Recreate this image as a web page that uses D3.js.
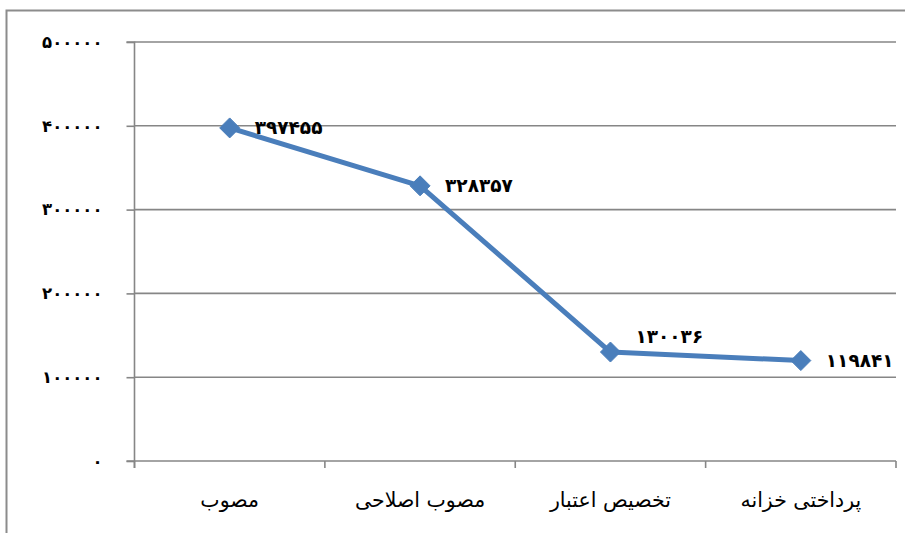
<!DOCTYPE html>
<html>
<head>
<meta charset="utf-8">
<script src="https://cdn.jsdelivr.net/npm/d3@7"></script>
<style>
  html, body { margin: 0; padding: 0; background: #fff; }
  svg { display: block; }
</style>
</head>
<body>
<svg id="chart" width="905" height="533"></svg>
<script>
const categories = ["مصوب", "مصوب اصلاحی", "تخصیص اعتبار", "پرداختی خزانه"];
const values = [397455, 328357, 130036, 119841];
const yTicks = [0, 100000, 200000, 300000, 400000, 500000];
const labelLift = [0, 0, 16, 0];

const toFa = n => String(n).replace(/\d/g, d => "۰۱۲۳۴۵۶۷۸۹"[d]);

const svg = d3.select("#chart");
const m = { left: 134.5, right: 896, top: 42, bottom: 461 };

// outer border
svg.append("rect")
  .attr("x", 6.5).attr("y", 10.5)
  .attr("width", 920).attr("height", 540)
  .attr("fill", "none").attr("stroke", "#8c8c8c").attr("stroke-width", 2);

const x = d3.scaleBand().domain(categories).range([m.left, m.right]).padding(0);
const y = d3.scaleLinear().domain([0, 500000]).range([m.bottom, m.top]);

// gridlines
svg.append("g").selectAll("line").data(yTicks.filter(t => t > 0)).join("line")
  .attr("x1", m.left).attr("x2", m.right)
  .attr("y1", d => y(d)).attr("y2", d => y(d))
  .attr("stroke", "#868686").attr("stroke-width", 1.6);

// y axis
const yAxis = d3.axisLeft(y).tickValues(yTicks).tickSize(8).tickPadding(24)
  .tickFormat(d => toFa(d));
const gy = svg.append("g").attr("transform", `translate(${m.left},0)`).call(yAxis);
gy.select(".domain").attr("stroke", "#868686").attr("stroke-width", 1.6)
  .attr("d", `M-8,${m.top}H0V${m.bottom + 7}`);
gy.selectAll(".tick line").attr("stroke", "#868686").attr("stroke-width", 1.6);
gy.selectAll(".tick text")
  .attr("font-family", "DejaVu Sans, sans-serif")
  .attr("font-size", 16.5).attr("font-weight", "bold").attr("fill", "#000");

// x axis
const xAxis = d3.axisBottom(x).tickSize(0).tickPadding(31);
const gx = svg.append("g").attr("transform", `translate(0,${m.bottom})`).call(xAxis);
gx.select(".domain").attr("stroke", "#868686").attr("stroke-width", 1.6)
  .attr("d", `M${m.left - 8},0H${m.right}`);
gx.selectAll(".tick text")
  .attr("font-family", "DejaVu Sans, sans-serif")
  .attr("font-size", 20.5).attr("fill", "#000").attr("direction", "rtl");
// category boundary ticks
const bounds = categories.map(c => x(c)).concat([x(categories[categories.length - 1]) + x.bandwidth()]);
gx.append("g").selectAll("line").data(bounds).join("line")
  .attr("x1", d => d).attr("x2", d => d).attr("y1", 0).attr("y2", 7)
  .attr("stroke", "#868686").attr("stroke-width", 1.6);

const cx = c => x(c) + x.bandwidth() / 2;
const pts = categories.map((c, i) => ({ c, v: values[i], i }));

// line
svg.append("path").datum(pts)
  .attr("d", d3.line().x(d => cx(d.c)).y(d => y(d.v)))
  .attr("fill", "none").attr("stroke", "#4a7ebb").attr("stroke-width", 5)
  .attr("stroke-linejoin", "round");

// markers
svg.append("g").selectAll("path").data(pts).join("path")
  .attr("transform", d => `translate(${cx(d.c)},${y(d.v)})`)
  .attr("d", "M0,-10L10,0L0,10L-10,0Z")
  .attr("fill", "#4a7ebb").attr("stroke", "#4a7ebb").attr("stroke-width", 1);

// data labels
svg.append("g").selectAll("text").data(pts).join("text")
  .attr("x", d => cx(d.c) + 25)
  .attr("y", d => y(d.v) - labelLift[d.i])
  .attr("dy", "0.35em")
  .attr("font-family", "DejaVu Sans, sans-serif")
  .attr("font-size", 18.5).attr("font-weight", "bold").attr("fill", "#000")
  .text(d => toFa(d.v));
</script>
</body>
</html>
